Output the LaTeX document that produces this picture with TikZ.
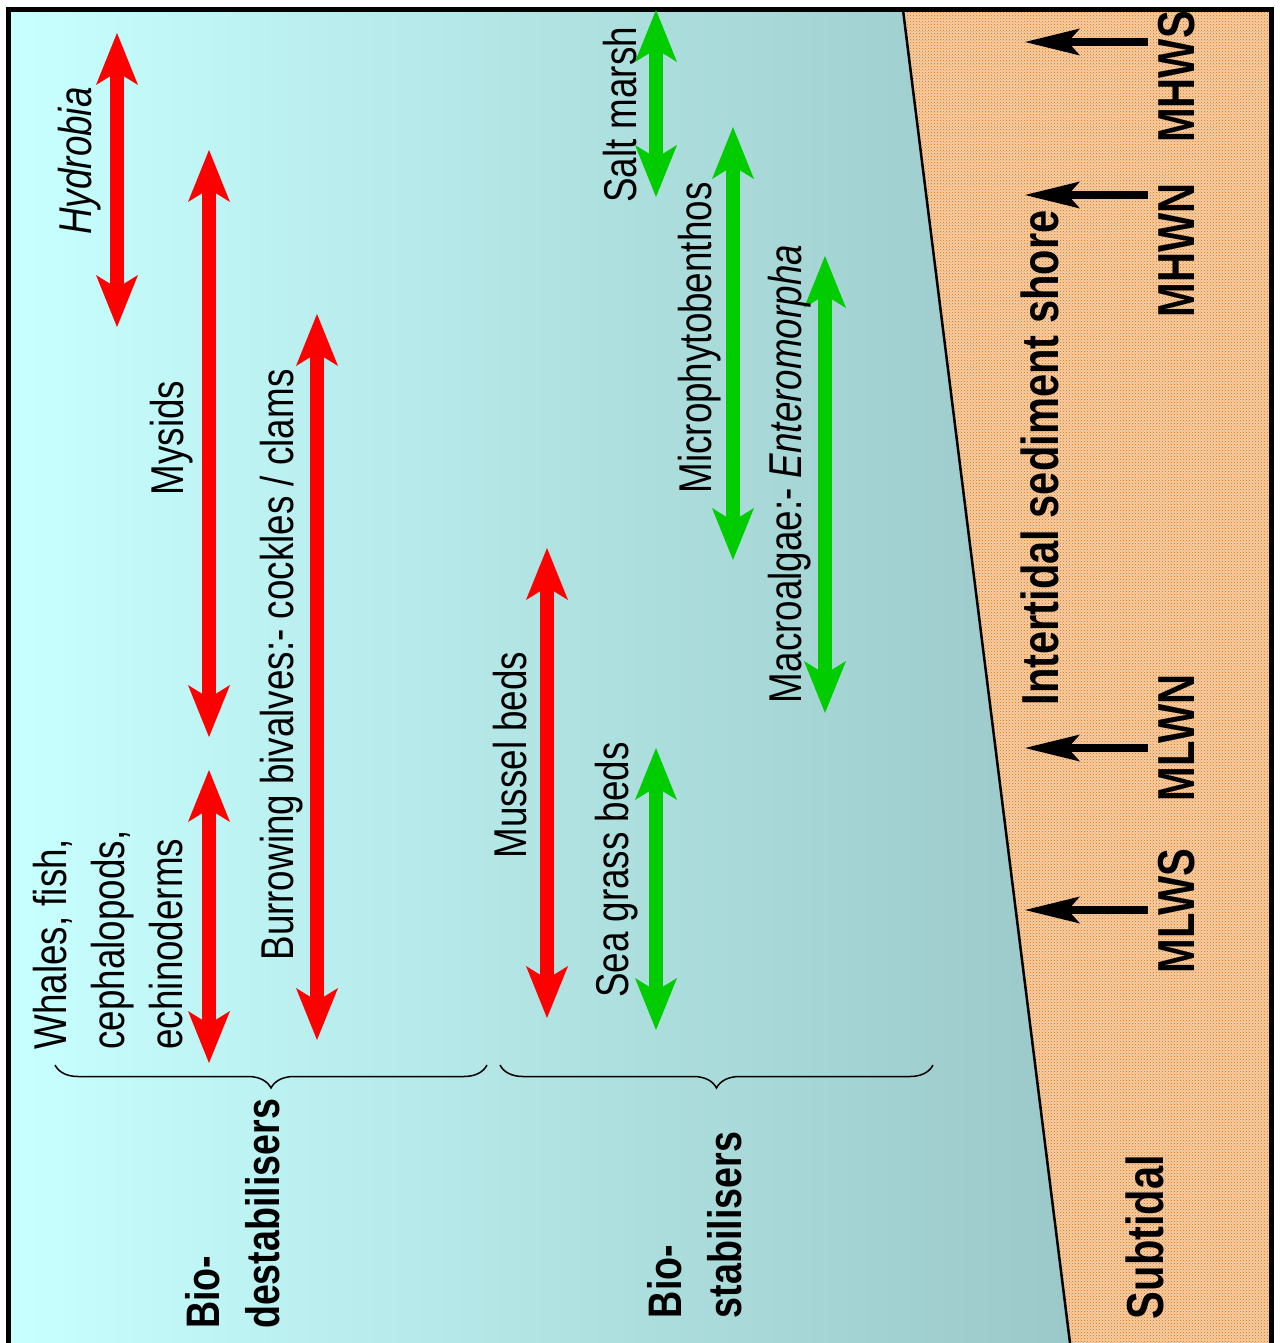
\documentclass[tikz,border=0pt]{standalone}
\usepackage{fontspec}
\usepackage{tikz}
\usetikzlibrary{arrows.meta,patterns,decorations.pathreplacing}
\newfontfamily\narrowsans[FakeStretch=0.8]{Liberation Sans}
\definecolor{waterLight}{RGB}{200,255,255}
\definecolor{waterMid}{RGB}{188,236,236}
\definecolor{waterDark}{RGB}{155,200,200}
\definecolor{sandBase}{RGB}{246,206,166}
\definecolor{sandDot}{RGB}{225,112,8}
\definecolor{rangeRed}{RGB}{255,0,0}
\definecolor{rangeGreen}{RGB}{0,204,0}
\tikzset{
  lbl/.style={rotate=90, inner sep=0pt, align=left, font=\narrowsans\fontsize{46}{58}\selectfont},
  tidelbl/.style={lbl, font=\narrowsans\bfseries\fontsize{52}{60}\selectfont},
  grouplbl/.style={lbl, font=\narrowsans\bfseries\fontsize{47}{60}\selectfont},
  rangearrow/.style={line width=14pt,
    {Stealth[length=52pt,width=42pt,inset=13pt,line width=0pt]}-{Stealth[length=52pt,width=42pt,inset=13pt,line width=0pt]}},
  redrange/.style={rangearrow, draw=rangeRed},
  greenrange/.style={rangearrow, draw=rangeGreen},
  tidearrow/.style={line width=8pt, -{Stealth[length=55pt,width=27pt,inset=12pt,line width=0pt]}},
  groupbrace/.style={decorate, decoration={brace, amplitude=23pt}, line width=1.5pt}
}
\begin{document}
\begin{tikzpicture}[x=1pt, y=-1pt]
\useasboundingbox (0,0) rectangle (1279,1343);
% water and sediment
\shade[left color=waterLight, middle color=waterMid, right color=waterDark]
  (8,10) -- (903,10) -- (1070,1343) -- (8,1343) -- cycle;
\fill[sandBase] (903,10) -- (1272,10) -- (1272,1343) -- (1070,1343) -- cycle;
\fill[pattern=crosshatch dots, pattern color=sandDot] (903,10) -- (1272,10) -- (1272,1343) -- (1070,1343) -- cycle;
\draw[line width=2.5pt] (903,10) -- (1070,1343);
\draw[line width=5pt] (8.5,1343) -- (8.5,10) -- (1271,10) -- (1271,1343);

% bio-destabilisers
\draw[redrange] (117,33) -- (117,327);
\node[lbl, font=\narrowsans\itshape\fontsize{46}{58}\selectfont] (hydrobia) at (80,161) {Hydrobia};
\draw[redrange] (209,150) -- (209,737);
\node[lbl] (mysids) at (172,438) {Mysids};
\draw[redrange] (209,770) -- (209,1063);
\node[lbl] (whales) at (108,940) {Whales, fish,\\cephalopods,\\echinoderms};
\draw[redrange] (317,314) -- (317,1040);
\node[lbl] (bivalves) at (282,665) {Burrowing bivalves:- cockles / clams};
\draw[redrange] (547,548) -- (547,1018);
\node[lbl] (mussel) at (510,755) {Mussel beds};

% bio-stabilisers
\draw[greenrange] (656,10) -- (656,197);
\node[lbl] (saltmarsh) at (620,115) {Salt marsh};
\draw[greenrange] (656,748) -- (656,1030);
\node[lbl] (seagrass) at (617,870) {Sea grass beds};
\draw[greenrange] (733,127) -- (733,560);
\node[lbl] (microphyto) at (700,338) {Microphytobenthos};
\draw[greenrange] (825,256) -- (825,713);
\node[lbl] (macroalgae) at (790,474) {Macroalgae:- \textit{Enteromorpha}};

% groups
\draw[groupbrace] (487,1065) -- (55,1065);
\draw[groupbrace] (933,1065) -- (500,1065);
\node[grouplbl] (destab) at (233,1214) {Bio-\\destabilisers};
\node[grouplbl] (stab) at (695,1225) {Bio-\\stabilisers};

% tide levels
\draw[tidearrow] (1148,42) -- (1025,42);
\draw[tidearrow] (1148,195) -- (1025,195);
\draw[tidearrow] (1148,748) -- (1025,748);
\draw[tidearrow] (1148,910) -- (1025,910);
\node[tidelbl] (mhws) at (1177,77) {MHWS};
\node[tidelbl] (mhwn) at (1177,250) {MHWN};
\node[tidelbl] (mlwn) at (1177,738) {MLWN};
\node[tidelbl] (mlws) at (1177,911) {MLWS};
\node[tidelbl] (shore) at (1040,458) {Intertidal sediment shore};
\node[tidelbl] (subtidal) at (1145,1237) {Subtidal};
\end{tikzpicture}
\end{document}
